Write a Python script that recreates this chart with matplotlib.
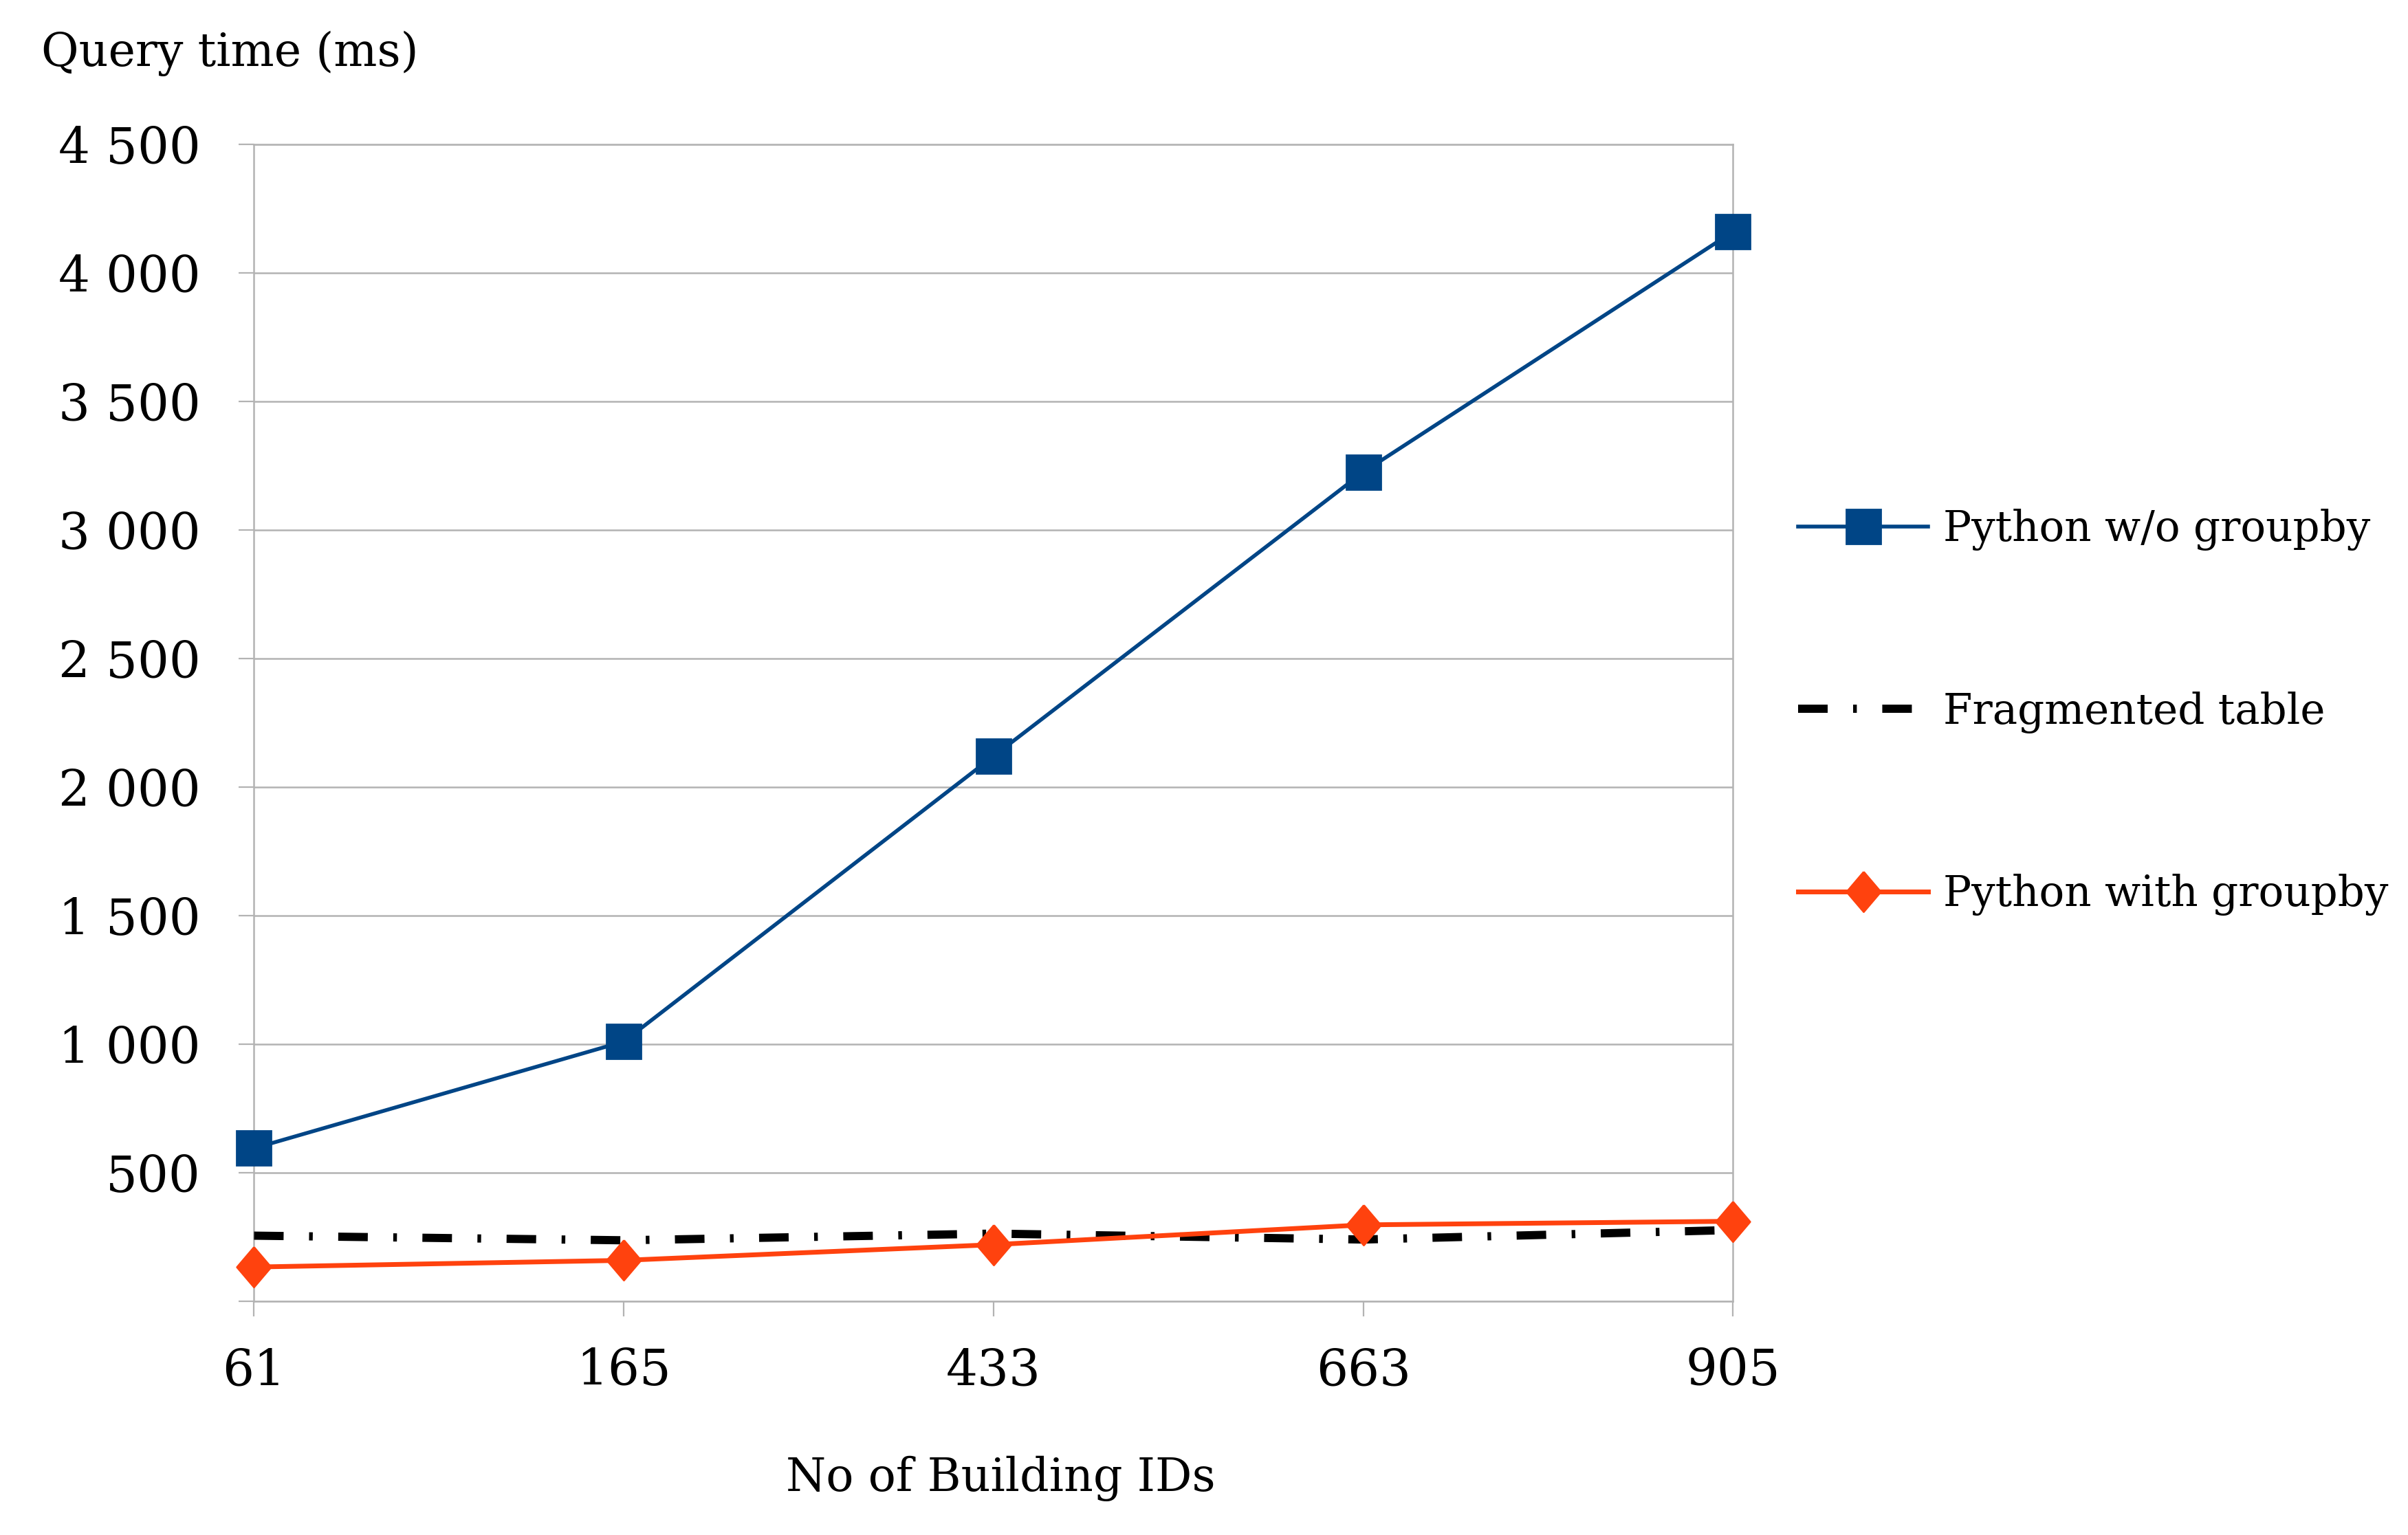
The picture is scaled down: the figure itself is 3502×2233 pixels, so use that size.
import matplotlib
matplotlib.use("Agg")
import matplotlib.pyplot as plt
import numpy as np

# ---- data ----
categories = ["61", "165", "433", "663", "905"]
python_wo_groupby = [595, 1010, 2120, 3225, 4160]
fragmented_table = [255, 237, 263, 240, 277]
python_with_groupby = [133, 159, 220, 297, 311]
series_labels = ["Python w/o groupby", "Fragmented table", "Python with groupby"]
ytick_values = [0, 500, 1000, 1500, 2000, 2500, 3000, 3500, 4000, 4500]
ytick_labels = ["", "500", "1 000", "1 500", "2 000", "2 500", "3 000", "3 500", "4 000", "4 500"]
x_title = "No of Building IDs"
y_title = "Query time (ms)"

plt.rcParams['font.family'] = ['DejaVu Serif']

fig = plt.figure(figsize=(17.51, 11.165), dpi=200)
ax = fig.add_axes([0.1055, 0.1523, 0.7197 - 0.1055, 0.906 - 0.1523])

x = np.arange(len(categories))
grey = "#b3b3b3"

diamond = [(0, 1), (0.85, 0), (0, -1), (-0.85, 0), (0, 1)]

ax.plot(x, python_wo_groupby, color="#004586", lw=2.0, marker="s", ms=18,
        label=series_labels[0], clip_on=False, zorder=3)
ax.plot(x, fragmented_table, color="black", lw=4.3, linestyle=(0, (3.6, 3.1, 0.45, 3.1)),
        dash_capstyle="butt", label=series_labels[1], clip_on=False, zorder=3)
ax.plot(x, python_with_groupby, color="#ff420e", lw=2.5, marker=diamond, ms=21,
        label=series_labels[2], clip_on=False, zorder=4)

ax.set_xlim(0, len(categories) - 1)
ax.set_ylim(0, 4500)
ax.set_xticks(x)
ax.set_xticklabels(categories, fontsize=26)
ax.set_yticks(ytick_values)
ax.set_yticklabels(ytick_labels, fontsize=26)
ax.tick_params(axis="both", colors=grey, length=8, width=0.8, labelcolor="black")
ax.tick_params(axis="y", pad=20)
ax.tick_params(axis="x", pad=16)
ax.grid(axis="y", color=grey, lw=0.9)
ax.set_axisbelow(True)
for s in ax.spines.values():
    s.set_color(grey)
    s.set_linewidth(0.9)

fig.text(0.017, 0.965, y_title, fontsize=24, ha="left", va="center")
fig.text(0.4156, 0.037, x_title, fontsize=24, ha="center", va="center")

leg = fig.legend(loc="center left", bbox_to_anchor=(0.7467, 0.536), frameon=False,
                 fontsize=22, handlelength=3.1, handletextpad=0.36, labelspacing=3.35,
                 borderpad=0, borderaxespad=0, numpoints=1)

fig.savefig("out.png", dpi=200)
